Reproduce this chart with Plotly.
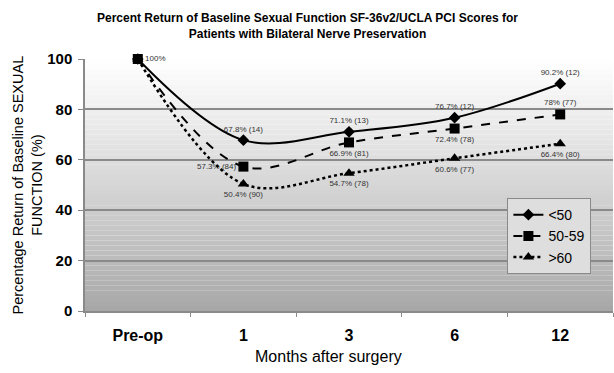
import plotly.graph_objects as go

categories = ["Pre-op", "1", "3", "6", "12"]
series_names = ["<50", "50-59", ">60"]
vals_lt50 = [100, 67.8, 71.1, 76.7, 90.2]
vals_50_59 = [100, 57.3, 66.9, 72.4, 78]
vals_gt60 = [100, 50.4, 54.7, 60.6, 66.4]
labels_lt50 = ["", "67.8% (14)", "71.1% (13)", "76.7% (12)", "90.2% (12)"]
labels_50_59 = ["100%", "57.3% (84)", "66.9% (81)", "72.4% (78)", "78% (77)"]
labels_gt60 = ["", "50.4% (90)", "54.7% (78)", "60.6% (77)", "66.4% (80)"]
y_ticks = [0, 20, 40, 60, 80, 100]

title_text = ("<b>Percent Return of Baseline Sexual Function SF-36v2/UCLA PCI Scores for<br>"
              "Patients with Bilateral Nerve Preservation</b>")
ytitle_text = "Percentage Return of Baseline SEXUAL<br>FUNCTION (%)"
xtitle_text = "Months after surgery"

lab_font = dict(family="Arial", size=8, color="#333333")

fig = go.Figure()

fig.add_trace(go.Scatter(
    x=categories, y=vals_lt50, name=series_names[0],
    mode="lines+markers+text", text=labels_lt50,
    textposition=["top center", "top center", "top center", "top center", "top center"],
    textfont=lab_font,
    line=dict(color="black", width=2, shape="spline", smoothing=1.0),
    marker=dict(symbol="diamond", size=9, color="black"),
    cliponaxis=False,
))
fig.add_trace(go.Scatter(
    x=categories, y=vals_50_59, name=series_names[1],
    mode="lines+markers+text", text=labels_50_59,
    textposition=["middle right", "middle left", "bottom center", "bottom center", "top center"],
    textfont=lab_font,
    line=dict(color="black", width=2, dash="dash", shape="spline", smoothing=1.0),
    marker=dict(symbol="square", size=10, color="black"),
    cliponaxis=False,
))
fig.add_trace(go.Scatter(
    x=categories, y=vals_gt60, name=series_names[2],
    mode="lines+markers+text", text=labels_gt60,
    textposition=["bottom center", "bottom center", "bottom center", "bottom center", "bottom center"],
    textfont=lab_font,
    line=dict(color="black", width=2.5, dash="dot", shape="spline", smoothing=1.0),
    marker=dict(symbol="triangle-up", size=10, color="black"),
    cliponaxis=False,
))

# background vertical gradient (white at top to gray at bottom)
shapes = []
n = 50
for i in range(n):
    y0 = 100 * i / n
    y1 = 100 * (i + 1) / n
    t = (y0 + y1) / 200.0
    g = int(round(166 + (255 - 166) * (t ** 0.9)))
    shapes.append(dict(type="rect", xref="paper", yref="y", x0=0, x1=1, y0=y0, y1=y1,
                       fillcolor=f"rgb({g},{g},{g})", line=dict(width=0), layer="below"))

fig.update_layout(
    width=614, height=373,
    margin=dict(l=85, r=1, t=59, b=62),
    paper_bgcolor="white",
    plot_bgcolor="white",
    shapes=shapes,
    showlegend=True,
    legend=dict(x=0.80, y=0.448, xanchor="left", yanchor="top",
                bgcolor="#dedede", bordercolor="#8a8a8a", borderwidth=1,
                font=dict(family="Arial", size=14, color="black"),
                tracegroupgap=2, itemwidth=30),
    xaxis=dict(
        type="category", range=[-0.5, 4.5],
        showgrid=False, showline=True, linecolor="#8a8a8a", linewidth=1.5,
        ticks="outside", tickson="boundaries", ticklen=4, tickcolor="#8a8a8a",
        ticklabelstandoff=9,
        tickfont=dict(family="Arial", size=16, color="black", weight="bold"),
    ),
    yaxis=dict(
        range=[0, 100], tickvals=y_ticks,
        showgrid=True, gridcolor="#8a8a8a", gridwidth=1.5,
        showline=True, linecolor="#8a8a8a", linewidth=1.5,
        ticks="outside", ticklen=5, tickcolor="#8a8a8a",
        ticklabelstandoff=3,
        tickfont=dict(family="Arial", size=15, color="black", weight="bold"),
        zeroline=False,
    ),
    annotations=[
        dict(text=title_text, xref="paper", yref="paper", x=0.4205, y=1.198,
             xanchor="center", yanchor="top", showarrow=False, align="center",
             font=dict(family="Arial", size=12, color="black")),
        dict(text=ytitle_text, textangle=-90, xref="paper", yref="paper",
             x=-0.072, y=0.5, xanchor="right", yanchor="middle", showarrow=False,
             font=dict(family="Arial", size=14.5, color="black"), align="center"),
        dict(text=xtitle_text, xref="paper", yref="paper", x=0.462, y=-0.1825,
             xanchor="center", yanchor="middle", showarrow=False,
             font=dict(family="Arial", size=16, color="black")),
    ],
)

fig.write_html("out.html")
